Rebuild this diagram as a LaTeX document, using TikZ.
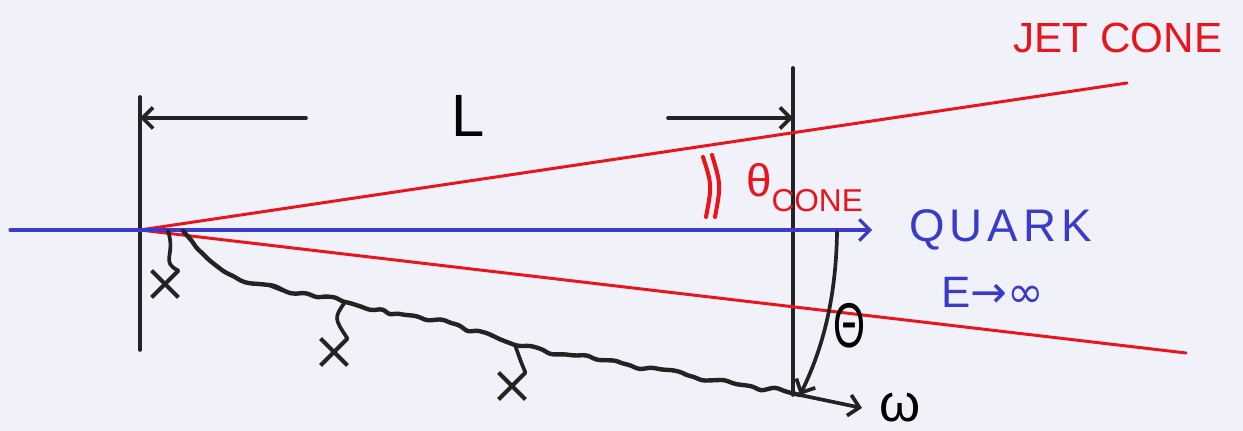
\documentclass[tikz,border=0pt]{standalone}
\usepackage{fontspec}
\setmainfont{Liberation Sans}
\newfontfamily\symbolos{DejaVu Sans}
\usetikzlibrary{positioning,arrows.meta,decorations.pathmorphing,shapes.misc}
\definecolor{papel}{HTML}{F1F1FA}
\definecolor{grafite}{HTML}{232323}
\definecolor{azul}{HTML}{3B3BC9}
\definecolor{rubro}{HTML}{E8161C}

\begin{document}
\begin{tikzpicture}[
      x=0.02cm, y=-0.02cm,
      >={Straight Barb[length=6pt,width=12pt]},
      pen/.style={draw=grafite,line width=2.1pt,line cap=round},
      cone/.style={draw=rubro,line width=1.7pt,line cap=round},
      quarkline/.style={draw=azul,line width=1.8pt,line cap=round},
      gluon/.style={pen,line width=2.5pt,decorate,decoration={random steps,segment length=6pt,amplitude=2.2pt},rounded corners=2pt},
      emit/.style={draw=grafite,line width=2.3pt,cross out,minimum size=13pt,inner sep=0pt},
      lbl/.style={font=\fontsize{#1}{#1}\selectfont,inner sep=1pt},
    ]
  \fill[papel] (0,0) rectangle (1243,431);
  \useasboundingbox (0,0) rectangle (1243,431);
  \pgfmathsetseed{11}
  % geometry
  \coordinate (vtx) at (140,230);
  \coordinate (qtail) at (10,230);
  \coordinate (qhead) at (872,230);
  \coordinate (upend) at (1127,83);
  \coordinate (loend) at (1186,353);
  \coordinate (wallAtop) at (140,97);
  \coordinate (wallAbot) at (140,350);
  \coordinate (wallBtop) at (793,68);
  \coordinate (wallBbot) at (793,395);
  \coordinate (hit) at (800,395);
  \coordinate (wend) at (862,408);
  \coordinate (thstart) at (837,232);
  % walls and L
  \draw[pen] (wallAtop) -- (wallAbot);
  \draw[pen] (wallBtop) -- (wallBbot);
  \node[lbl=34] (L) at (468,116) {L};
  \coordinate (Lfrom) at (306,118);
  \coordinate (Rfrom) at (668,118);
  \draw[pen,->] (Lfrom) -- (wallAtop |- Lfrom);
  \draw[pen,->] (Rfrom) -- (wallBtop |- Rfrom);
  % cone and quark
  \draw[cone] (vtx) -- (upend);
  \draw[cone] (vtx) -- (loend);
  \draw[quarkline,->] (qtail) -- (qhead);
  \draw[cone,line width=2.3pt] (703,157) .. controls (712,185) .. (706,217);
  \draw[cone,line width=2.3pt] (712,155) .. controls (721,185) .. (715,217);
  \node[lbl=24,text=rubro] (jet) at (1118,38) {JET CONE};
  \node[lbl=26,text=rubro,anchor=base west] (thcone) at (744,197)
    {θ\raisebox{-8pt}{\fontsize{18}{18}\selectfont CONE}};
  \node[lbl=26,text=azul,right=0.7cm of qhead,font=\fontsize{26}{26}\selectfont\addfontfeatures{LetterSpace=11}] (quark) {QUARK};
  \node[lbl=25,text=azul,below=0.45cm of quark,xshift=-0.15cm] (energy) {E{\symbolos →∞}};
  % gluon with emissions
  \coordinate (b1) at (168,231);
  \coordinate (b2) at (345,302);
  \coordinate (b3) at (515,345);
  \draw[gluon] (183,231) -- (205,256) -- (238,279) -- (290,293) -- (b2) -- (400,314)
    -- (455,324) -- (b3) -- (570,355) -- (625,364) -- (690,376) -- (750,386) -- (hit);
  \node[emit] (e1) at (165,284) {};
  \node[emit] (e2) at (334,352) {};
  \node[emit] (e3) at (512,386) {};
  \draw[pen] (b1) .. controls (176,255) and (160,262) .. (e1.north east);
  \draw[pen] (b2) .. controls (334,318) .. (e2.north east);
  \draw[pen] (b3) .. controls (521,362) .. (e3.north east);
  \draw[pen,->] (hit) -- (wend);
  \node[lbl=30,right=0.3cm of wend] (omega) {ω};
  % emission angle
  \draw[pen,->] (thstart) .. controls (836,300) and (822,350) .. (hit);
  \node[lbl=36] (theta) at (849,326) {\scalebox{0.65}[1]{Θ}};
\end{tikzpicture}
\end{document}
